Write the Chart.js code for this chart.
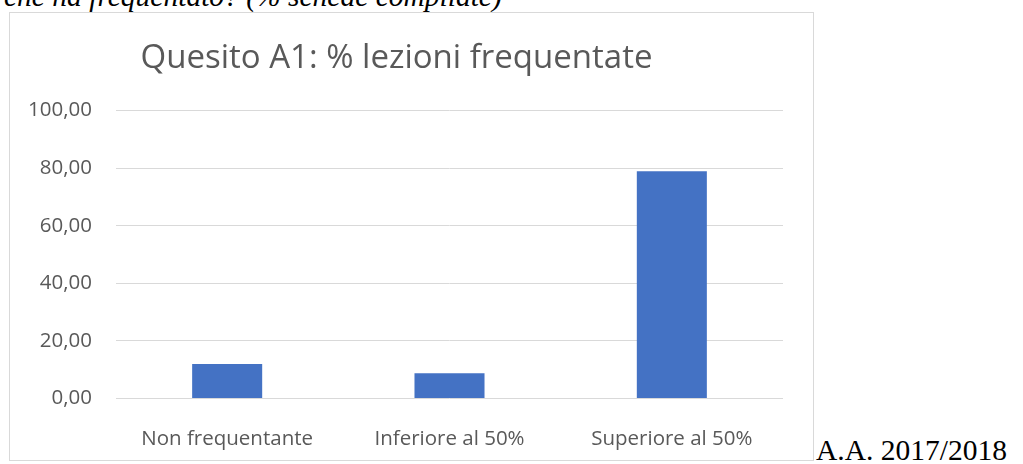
<!DOCTYPE html>
<html>
<head>
<meta charset="utf-8">
<script src="https://cdn.jsdelivr.net/npm/chart.js@4/dist/chart.umd.min.js"></script>
<style>
  body { margin: 0; background: #fff; overflow: hidden; width: 1023px; height: 464px; position: relative; }
  .serif { position: absolute; font-family: "Liberation Serif", "Times New Roman", serif; font-size: 29.5px; line-height: 29.5px; color: #000; white-space: nowrap; }
  #box { position: absolute; left: 9px; top: 12px; width: 803px; height: 447px; border: 1px solid #d9d9d9; }
</style>
</head>
<body>
<div class="serif" style="left:4px; top:-18px; font-style:italic;">che ha frequentato? (% schede compilate)</div>
<div id="box"><canvas id="myChart" width="803" height="447"></canvas></div>
<div class="serif" style="left:816px; top:436px;">A.A. 2017/2018</div>
<script>
// chart data
const categories = ['Non frequentante', 'Inferiore al 50%', 'Superiore al 50%'];
const values = [12.0, 8.8, 78.9];
const yTicks = [0, 20, 40, 60, 80, 100];

const ctx = document.getElementById('myChart').getContext('2d');
const myChart = new Chart(ctx, {
  type: 'bar',
  data: {
    labels: categories,
    datasets: [{
      label: 'Quesito A1',
      data: values,
      backgroundColor: '#4472C4',
      borderWidth: 0,
      categoryPercentage: 1,
      barPercentage: 0.315
    }]
  },
  options: {
    responsive: false,
    animation: false,
    layout: {
      padding: { left: 0, right: 30, top: 0, bottom: 0 }
    },
    plugins: {
      legend: { display: false },
      tooltip: { enabled: false },
      title: {
        display: true,
        text: 'Quesito A1: % lezioni frequentate',
        color: '#595959',
        font: { family: 'Open Sans', size: 33, weight: 'normal', lineHeight: 1.2 },
        padding: { top: 26, bottom: 32 }
      }
    },
    scales: {
      x: {
        grid: { display: false },
        border: { display: false },
        ticks: {
          color: '#595959',
          font: { family: 'Open Sans', size: 20.5 },
          padding: 20,
          maxRotation: 0
        },
        afterFit: function(scale) { scale.height = 61.5 }
      },
      y: {
        min: yTicks[0],
        max: yTicks[yTicks.length - 1],
        afterBuildTicks: function(scale) {
          scale.ticks = yTicks.map(function(v) { return { value: v } })
        },
        grid: { color: '#d9d9d9', lineWidth: 1, drawTicks: false },
        border: { display: false },
        ticks: {
          color: '#595959',
          font: { family: 'Open Sans', size: 20.5 },
          padding: 24,
          callback: function(value) { return Number(value).toFixed(2).replace('.', ',') }
        },
        afterFit: function(scale) { scale.width = 106 }
      }
    }
  }
});
</script>
</body>
</html>
